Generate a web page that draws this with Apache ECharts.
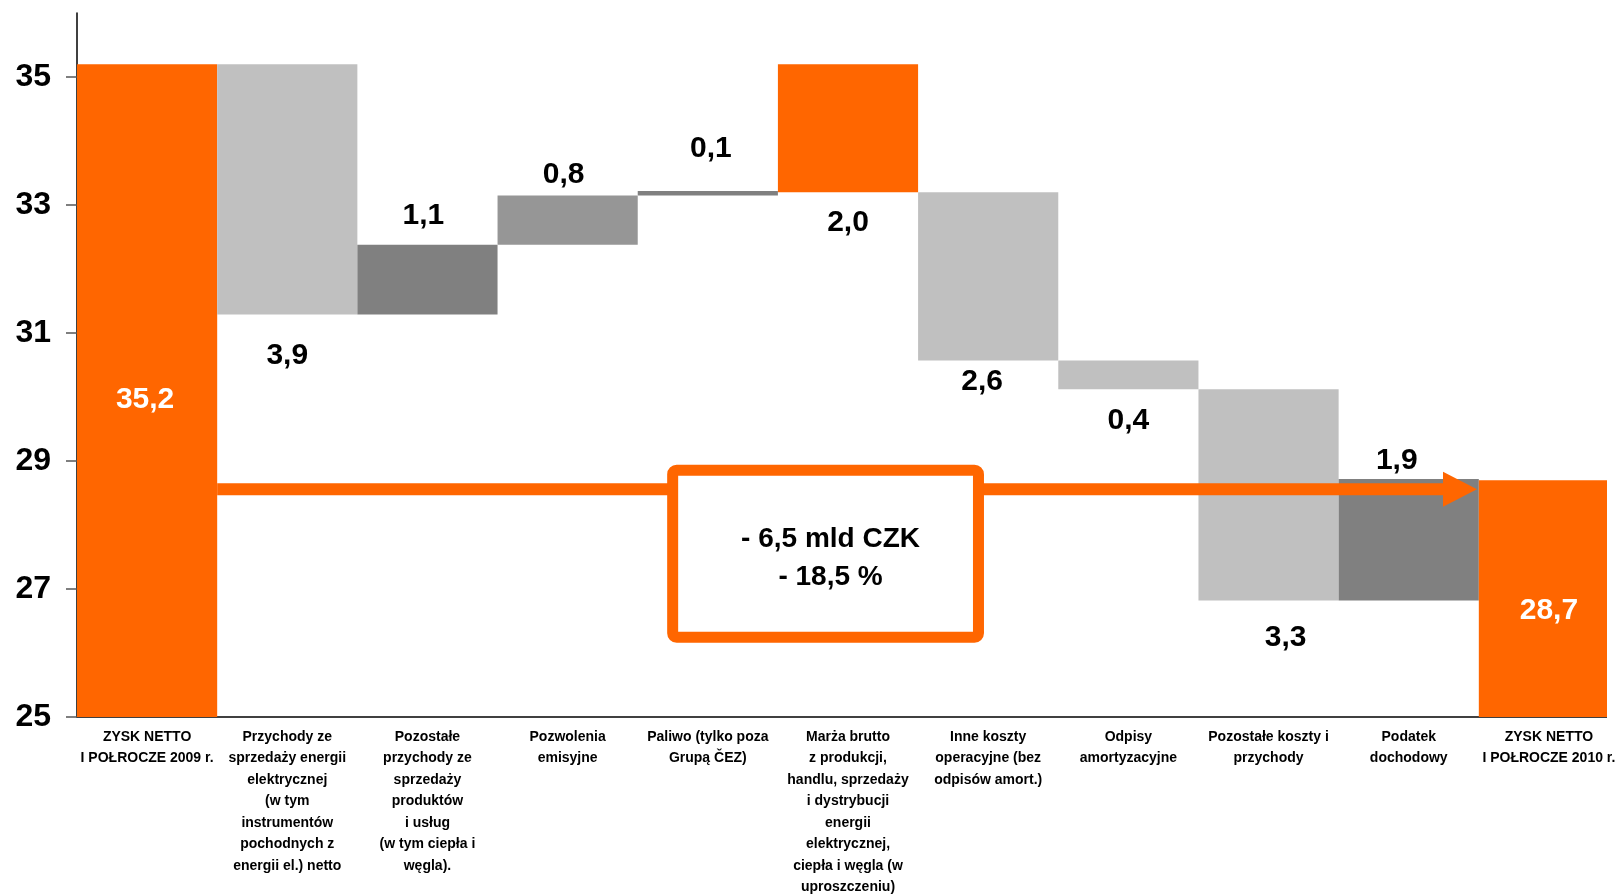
<!DOCTYPE html>
<html>
<head>
<meta charset="utf-8">
<script src="https://cdn.jsdelivr.net/npm/echarts@6/dist/echarts.min.js"></script>
<style>
  html, body { margin: 0; padding: 0; background: #fff; }
  #chart { width: 1616px; height: 895px; }
</style>
</head>
<body>
<div id="chart"></div>
<script>
// kategorie (oś X)
const categories = [
    'ZYSK NETTO\nI POŁROCZE 2009 r.',
    'Przychody ze\nsprzedaży energii\nelektrycznej\n(w tym\ninstrumentów\npochodnych z\nenergii el.) netto',
    'Pozostałe\nprzychody ze\nsprzedaży\nproduktów\ni usług\n(w tym ciepła i\nwęgla).',
    'Pozwolenia\nemisyjne',
    'Paliwo (tylko poza\nGrupą ČEZ)',
    'Marża brutto\nz produkcji,\nhandlu, sprzedaży\ni dystrybucji\nenergii\nelektrycznej,\nciepła i węgla (w\nuproszczeniu)',
    'Inne koszty\noperacyjne (bez\nodpisów amort.)',
    'Odpisy\namortyzacyjne',
    'Pozostałe koszty i\nprzychody',
    'Podatek\ndochodowy',
    'ZYSK NETTO\nI POŁROCZE 2010 r.'
];

// dół i góra każdego słupka (mld CZK)
const lows  = [25, 31.29, 31.29, 32.38, 33.15, 33.2, 30.57, 30.12, 26.82, 26.82, 25];
const highs = [35.2, 35.2, 32.38, 33.15, 33.22, 35.2, 33.2, 30.57, 30.12, 28.72, 28.7];
const valueLabels = ['35,2', '3,9', '1,1', '0,8', '0,1', '2,0', '2,6', '0,4', '3,3', '1,9', '28,7'];
const yTicks = [25, 27, 29, 31, 33, 35];

// strzałka i ramka z podsumowaniem
const arrowLevel = 28.56;
const summaryText = '- 6,5 mld CZK\n- 18,5 %';

const ORANGE = '#FF6600';
const barColors = [ORANGE, '#C0C0C0', '#808080', '#969696', '#808080', ORANGE,
                   '#C0C0C0', '#C0C0C0', '#C0C0C0', '#808080', ORANGE];
// etykiety: [gdzie, odstęp, przesunięcie x, przesunięcie y]
const labelPos = [
    ['inside', 0, -2, 9], ['bottom', 26, 0, 0], ['top', 14, -4, 0], ['top', 6, -4, 0],
    ['top', 27, 3, 0], ['bottom', 16, 0, 0], ['bottom', 6, -6, 0], ['bottom', 16, 0, 0],
    ['bottom', 22, 17, 0], ['top', 3, -12, 0], ['inside', 0, 0, 12]
];

const FONT = '"Liberation Sans", Arial, sans-serif';
const PLOT_RIGHT = 1607; // w oryginale ostatni słupek jest ucięty tutaj

let myChart = echarts.init(document.getElementById('chart'));

myChart.setOption({
    animation: false,
    grid: { left: 77, right: -3, top: 13, bottom: 178, outerBoundsMode: 'none' },
    xAxis: {
        type: 'category',
        data: categories,
        axisLine: { lineStyle: { color: '#404040', width: 2 } },
        axisTick: { show: false },
        axisLabel: {
            interval: 0, margin: 9, color: '#000', fontFamily: FONT,
            fontSize: 14, fontWeight: 'bold', lineHeight: 21.5
        }
    },
    yAxis: {
        type: 'value',
        min: 25, max: 36,
        splitLine: { show: false },
        axisLine: { show: true, lineStyle: { color: '#000', width: 1.5 } },
        axisTick: { show: true, length: 11, customValues: yTicks, lineStyle: { color: '#555', width: 1.5 } },
        axisLabel: {
            customValues: yTicks, margin: 26, color: '#000', fontFamily: FONT,
            fontSize: 32, fontWeight: 'bold'
        }
    },
    series: [
        {
            type: 'bar', stack: 'w', silent: true, barCategoryGap: 0,
            itemStyle: { color: 'transparent' },
            data: lows
        },
        {
            type: 'bar', stack: 'w', barCategoryGap: 0,
            data: highs.map(function (h, i) {
                const p = labelPos[i];
                const inside = p[0] === 'inside';
                return {
                    value: +(h - lows[i]).toFixed(3),
                    itemStyle: { color: barColors[i] },
                    label: {
                        show: true,
                        position: p[0],
                        distance: p[1],
                        offset: [p[2], p[3]],
                        formatter: valueLabels[i],
                        color: inside ? '#fff' : '#000',
                        fontFamily: FONT, fontSize: 30, fontWeight: 'bold'
                    }
                };
            })
        }
    ]
});

// strzałka + ramka, liczone przez skale wykresu
const c0 = myChart.convertToPixel({ gridIndex: 0 }, [0, 25]);
const c1 = myChart.convertToPixel({ gridIndex: 0 }, [1, 25]);
const band = c1[0] - c0[0];
const xAt = f => c0[0] + f * band;
const yAt = v => myChart.convertToPixel({ gridIndex: 0 }, [0, v])[1];

const ay = yAt(arrowLevel);
const tipX = xAt(9.487);
const headX = tipX - 34;
const boxL = xAt(3.71), boxR = xAt(5.97);
const boxT = yAt(28.94), boxB = yAt(26.16);

myChart.setOption({
    graphic: [
        {
            type: 'line', z: 10,
            shape: { x1: xAt(0.5), y1: ay, x2: headX + 1, y2: ay },
            style: { stroke: ORANGE, lineWidth: 12 }
        },
        {
            type: 'polygon', z: 10,
            shape: { points: [[headX, ay - 17.5], [tipX, ay], [headX, ay + 17.5]] },
            style: { fill: ORANGE }
        },
        {
            type: 'rect', z: 11,
            shape: { x: boxL + 5.5, y: boxT + 5.5, width: boxR - boxL - 11, height: boxB - boxT - 11, r: 4 },
            style: { fill: '#fff', stroke: ORANGE, lineWidth: 11 }
        },
        {
            type: 'text', z: 12,
            x: (boxL + boxR) / 2 + 5, y: (boxT + boxB) / 2 + 4,
            style: {
                text: summaryText, fill: '#000', align: 'center', verticalAlign: 'middle',
                font: 'bold 28px ' + FONT, lineHeight: 38
            }
        },
        {
            // ucięcie prawej krawędzi obszaru wykresu
            type: 'rect', z: 20, silent: true,
            shape: { x: PLOT_RIGHT, y: 0, width: 20, height: yAt(25) + 2 },
            style: { fill: '#fff' }
        }
    ]
});
</script>
</body>
</html>
